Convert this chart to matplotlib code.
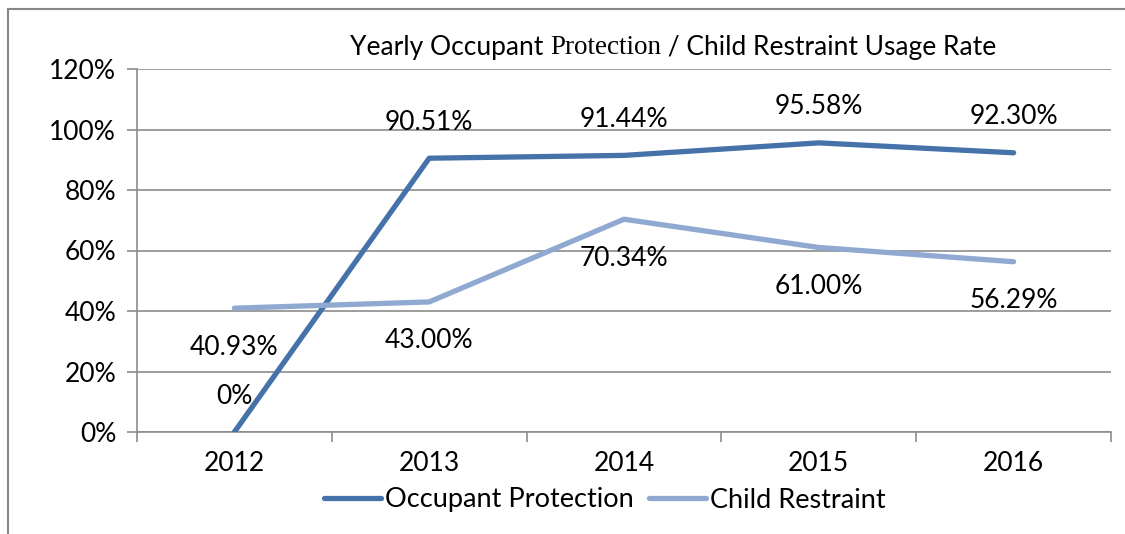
import matplotlib.pyplot as plt
from matplotlib.lines import Line2D
from matplotlib.ticker import FixedLocator, PercentFormatter

years = ["2012", "2013", "2014", "2015", "2016"]
occupant = [0.0, 90.51, 91.44, 95.58, 92.30]
child = [40.93, 43.00, 70.34, 61.00, 56.29]
occupant_labels = ["0%", "90.51%", "91.44%", "95.58%", "92.30%"]
child_labels = ["40.93%", "43.00%", "70.34%", "61.00%", "56.29%"]

OCC_COLOR = "#4672AA"
CHILD_COLOR = "#8FA9D0"
GRID_COLOR = "#8C8C8C"
FS = 19

plt.rcParams["font.family"] = ["Lato", "DejaVu Sans"]

fig = plt.figure(figsize=(11.25, 5.34), dpi=100)
ax = fig.add_axes([137 / 1125, 1 - 432 / 534, (1111 - 137) / 1125, (432 - 69) / 534])

x = list(range(len(years)))
ax.plot(x, occupant, color=OCC_COLOR, lw=3.8, solid_capstyle="round",
        label="Occupant Protection", zorder=3)
ax.plot(x, child, color=CHILD_COLOR, lw=3.8, solid_capstyle="round",
        label="Child Restraint", zorder=3)

for xi, v, lab in zip(x, occupant, occupant_labels):
    ax.annotate(lab, (xi, v), xytext=(0, 36), textcoords="offset pixels",
                ha="center", va="center", fontsize=FS)
for xi, v, lab in zip(x, child, child_labels):
    ax.annotate(lab, (xi, v), xytext=(0, -39), textcoords="offset pixels",
                ha="center", va="center", fontsize=FS)

ax.set_xlim(-0.5, len(years) - 0.5)
ax.set_ylim(0, 120)
ax.yaxis.set_major_locator(FixedLocator(range(0, 121, 20)))
ax.yaxis.set_major_formatter(PercentFormatter(decimals=0))
ax.set_xticks(x)
ax.set_xticklabels(years)
ax.set_xticks([i - 0.5 for i in range(len(years) + 1)], minor=True)
ax.tick_params(axis="x", which="major", length=0, pad=14, labelsize=FS)
ax.tick_params(axis="x", which="minor", length=7, width=1.2, color=GRID_COLOR)
ax.tick_params(axis="y", length=7, width=1.2, color=GRID_COLOR, pad=8, labelsize=FS)

ax.grid(axis="y", color=GRID_COLOR, lw=1.2)
ax.set_axisbelow(True)
for side in ["top", "right"]:
    ax.spines[side].set_visible(False)
for side in ["left", "bottom"]:
    ax.spines[side].set_color(GRID_COLOR)
    ax.spines[side].set_linewidth(1.2)

# title: middle word is in a serif face in the original
t1 = fig.text(350 / 1125, 1 - 48 / 534, "Yearly Occupant ", fontsize=19,
              ha="left", va="center")
t2 = ax.annotate("Protection", xy=(1, 0), xycoords=t1, ha="left", va="bottom",
                 fontsize=19.5, family="Liberation Serif")
ax.annotate(" / Child Restraint Usage Rate", xy=(1, 0), xycoords=t2,
            ha="left", va="bottom", fontsize=19)

fig.legend(loc="center", bbox_to_anchor=(605 / 1125, 1 - 500 / 534), ncol=2,
           frameon=False, fontsize=19.5, handlelength=2.1, handletextpad=0.15,
           columnspacing=0.55)

# outer frame (left and top edges visible)
fig.add_artist(Line2D([8 / 1125, 8 / 1125], [0, 1 - 9 / 534], transform=fig.transFigure,
                      color="#888888", lw=1.5))
fig.add_artist(Line2D([8 / 1125, 1], [1 - 9 / 534, 1 - 9 / 534], transform=fig.transFigure,
                      color="#888888", lw=1.5))

fig.savefig("out.png", dpi=100)
